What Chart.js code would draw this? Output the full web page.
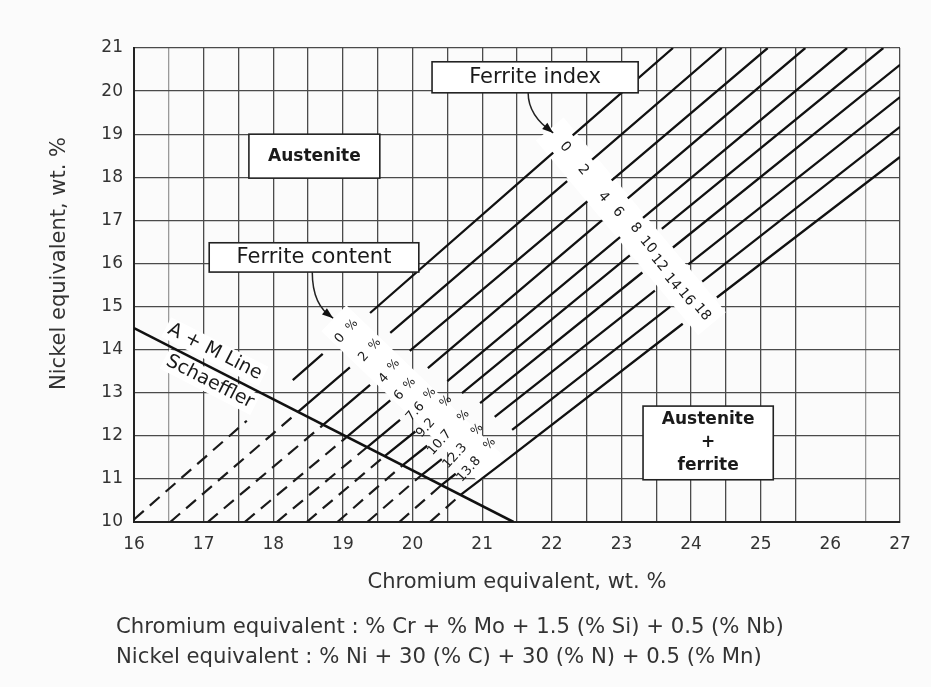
<!DOCTYPE html>
<html>
<head>
<meta charset="utf-8">
<script src="https://cdn.jsdelivr.net/npm/chart.js@4.4.1/dist/chart.umd.min.js"></script>
<style>
html, body { margin: 0; padding: 0; background: #fbfbfb; }
#wrap { position: relative; width: 931px; height: 687px; }
#formula { position: absolute; left: 116px; top: 611px; font: 21.2px "DejaVu Sans", sans-serif; color: #333; line-height: 30px; white-space: nowrap; }
</style>
</head>
<body>
<div id="wrap">
<canvas id="myChart" width="931" height="687"></canvas>
<div id="formula">Chromium equivalent : % Cr + % Mo + 1.5 (% Si) + 0.5 (% Nb)<br>Nickel equivalent : % Ni + 30 (% C) + 30 (% N) + 0.5 (% Mn)</div>
</div>
<script>
// iso-ferrite lines, one entry per line (FN 0 ... 18), [Cr eq, Ni eq]
const ferriteIndex = ['0', '2', '4', '6', '8', '10', '12', '14', '16', '18'];
const ferriteContent = ['0', '2', '4', '6', '7.6', '9.2', '10.7', '12.3', '13.8'];

// dashed part, bottom edge -> A+M line
const dashStart = [[16.00, 10.06], [16.52, 10], [17.06, 10], [17.59, 10], [18.05, 10],
    [18.48, 10], [18.92, 10], [19.35, 10], [19.81, 10], [20.25, 10]];
const dashEnd = [[17.62, 12.35], [18.36, 12.56], [18.72, 12.26], [19.06, 11.98], [19.35, 11.74],
    [19.60, 11.53], [19.86, 11.32], [20.13, 11.09], [20.41, 10.85], [20.69, 10.63]];
// solid part, A+M line -> % labels
const lowStart = [[18.28, 13.29], [18.36, 12.56], [18.72, 12.26], [19.06, 11.98], [19.35, 11.74],
    [19.60, 11.53], [19.86, 11.32], [20.13, 11.09], [20.41, 10.85], [20.69, 10.63]];
const lowEnd = [[18.71, 13.90], [19.10, 13.59], [19.39, 13.18], [19.68, 12.82], [19.82, 12.37],
    [20.04, 12.10], [20.21, 11.77], [20.42, 11.46], [20.62, 11.12], [21.26, 11.33]];
// between the two label bands
const midStart = [[19.39, 14.85], [19.68, 14.39], [19.96, 13.97], [20.22, 13.57], [20.50, 13.27],
    [20.71, 12.99], [20.97, 12.76], [21.18, 12.44], [21.43, 12.14], [21.26, 11.33]];
const midEnd = [[22.02, 18.57], [22.22, 17.91], [22.51, 17.44], [22.72, 17.00], [22.98, 16.61],
    [23.12, 16.19], [23.30, 15.79], [23.48, 15.37], [23.70, 15.00], [23.88, 14.60]];
// above the ferrite index labels
const topStart = [[22.30, 18.97], [22.58, 18.41], [22.86, 17.93], [23.09, 17.51], [23.31, 17.06],
    [23.58, 16.80], [23.74, 16.37], [23.96, 15.98], [24.16, 15.58], [24.37, 15.21]];
const topEnd = [[23.74, 21], [24.44, 21], [25.10, 21], [25.64, 21], [26.24, 21],
    [26.76, 21], [27, 20.61], [27, 19.86], [27, 19.17], [27, 18.47]];

// Schaeffler A+M line
const amLine = [[16, 14.5], [21.45, 10]];

// label anchors
const indexLabelPos = [[22.19, 18.70], [22.45, 18.17], [22.74, 17.54], [22.95, 17.19], [23.20, 16.82],
    [23.38, 16.43], [23.54, 16.01], [23.73, 15.57], [23.93, 15.22], [24.16, 14.87]];
const contentLabelPos = [[18.96, 14.26], [19.30, 13.83], [19.59, 13.33], [19.81, 12.94], [20.04, 12.56],
    [20.19, 12.18], [20.39, 11.84], [20.61, 11.53], [20.81, 11.22]];
const percentSignPos = [[19.13, 14.56], [19.46, 14.12], [19.73, 13.64], [19.96, 13.21], [20.25, 12.98],
    [20.48, 12.80], [20.73, 12.46], [20.93, 12.14], [21.11, 11.81]];

const boxes = [
    {text: ['Ferrite index'], from: [20.28, 20.68], to: [23.24, 19.96], bold: false},
    {text: ['Austenite'], from: [17.65, 19.00], to: [19.53, 17.98], bold: true},
    {text: ['Ferrite content'], from: [17.08, 16.48], to: [20.09, 15.80], bold: false},
    {text: ['Austenite', '+', 'ferrite'], from: [23.31, 12.69], to: [25.18, 10.98], bold: true}
];
const arrows = [
    [[21.66, 19.96], [21.66, 19.61], [22.02, 19.03]],
    [[18.56, 15.80], [18.56, 15.20], [18.86, 14.73]]
];
const bands = [
    [[21.97, 19.12], [24.30, 14.60]],
    [[18.87, 14.73], [21.14, 11.21]]
];
const amTexts = [['A + M Line', [17.16, 13.95]], ['Schaeffler', [17.09, 13.25]]];
const yTitle = 'Nickel equivalent, wt. %';

const FONT = '"DejaVu Sans", sans-serif';
Chart.defaults.font.family = FONT;
Chart.defaults.color = '#333';

function toPx(chart, p) {
    return [chart.scales.x.getPixelForValue(p[0]), chart.scales.y.getPixelForValue(p[1])];
}

function rotText(ctx, text, x, y, angle, font) {
    ctx.save();
    ctx.translate(x, y);
    ctx.rotate(angle);
    ctx.font = font;
    ctx.textAlign = 'center';
    ctx.textBaseline = 'middle';
    ctx.fillText(text, 0, 0);
    ctx.restore();
}

function amAngle(chart) {
    const a = toPx(chart, amLine[0]), c = toPx(chart, amLine[1]);
    return Math.atan2(c[1] - a[1], c[0] - a[0]);
}

const overlay = {
    id: 'overlay',
    beforeDatasetsDraw(chart) {
        const ctx = chart.ctx;
        ctx.save();
        ctx.strokeStyle = '#ffffff';
        ctx.lineWidth = 36;
        bands.forEach(b => {
            const a = toPx(chart, b[0]), c = toPx(chart, b[1]);
            ctx.beginPath();
            ctx.moveTo(a[0], a[1]);
            ctx.lineTo(c[0], c[1]);
            ctx.stroke();
        });
        // white ground under the A+M line texts
        const ang = amAngle(chart);
        ctx.font = '19px ' + FONT;
        amTexts.forEach(t => {
            const p = toPx(chart, t[1]);
            const w = ctx.measureText(t[0]).width;
            ctx.save();
            ctx.translate(p[0], p[1]);
            ctx.rotate(ang);
            ctx.fillStyle = '#ffffff';
            ctx.fillRect(-w / 2 - 3, -11, w + 6, 22);
            ctx.restore();
        });
        ctx.restore();
    },
    afterDatasetsDraw(chart) {
        const ctx = chart.ctx;
        ctx.save();
        ctx.fillStyle = '#333';
        rotText(ctx, yTitle, 60, chart.scales.y.getPixelForValue(16), -Math.PI / 2, '21px ' + FONT);

        ctx.fillStyle = '#1a1a1a';
        const ang = amAngle(chart);
        amTexts.forEach(t => rotText(ctx, t[0], ...toPx(chart, t[1]), ang, '19px ' + FONT));

        const fnAng = 50 * Math.PI / 180;
        indexLabelPos.forEach((p, i) => {
            rotText(ctx, ferriteIndex[i], ...toPx(chart, p), fnAng, '14px ' + FONT);
        });
        const pctAng = -48 * Math.PI / 180;
        contentLabelPos.forEach((p, i) => {
            rotText(ctx, ferriteContent[i], ...toPx(chart, p), pctAng, '13px ' + FONT);
            rotText(ctx, '%', ...toPx(chart, percentSignPos[i]), pctAng, '12px ' + FONT);
        });

        // callout boxes
        boxes.forEach(b => {
            const p0 = toPx(chart, b.from), p1 = toPx(chart, b.to);
            ctx.fillStyle = '#ffffff';
            ctx.fillRect(p0[0], p0[1], p1[0] - p0[0], p1[1] - p0[1]);
            ctx.strokeStyle = '#222';
            ctx.lineWidth = 1.6;
            ctx.strokeRect(p0[0], p0[1], p1[0] - p0[0], p1[1] - p0[1]);
            ctx.fillStyle = '#1a1a1a';
            ctx.font = (b.bold ? 'bold 17px ' : '21px ') + FONT;
            ctx.textAlign = 'center';
            ctx.textBaseline = 'middle';
            const cx = (p0[0] + p1[0]) / 2, cy = (p0[1] + p1[1]) / 2;
            const lh = 23;
            b.text.forEach((t, k) => {
                ctx.fillText(t, cx, cy + (k - (b.text.length - 1) / 2) * lh);
            });
        });

        // arrows
        arrows.forEach(ar => {
            const pts = ar.map(p => toPx(chart, p));
            ctx.strokeStyle = '#222';
            ctx.lineWidth = 1.5;
            ctx.beginPath();
            ctx.moveTo(pts[0][0], pts[0][1]);
            ctx.quadraticCurveTo(pts[1][0], pts[1][1] + 8, pts[2][0], pts[2][1]);
            ctx.stroke();
            const last = pts[2];
            const dir = Math.atan2(last[1] - pts[1][1] - 4, last[0] - pts[1][0]);
            ctx.fillStyle = '#111';
            ctx.beginPath();
            ctx.moveTo(last[0], last[1]);
            ctx.lineTo(last[0] - 11 * Math.cos(dir) + 4 * Math.sin(dir), last[1] - 11 * Math.sin(dir) - 4 * Math.cos(dir));
            ctx.lineTo(last[0] - 11 * Math.cos(dir) - 4 * Math.sin(dir), last[1] - 11 * Math.sin(dir) + 4 * Math.cos(dir));
            ctx.closePath();
            ctx.fill();
        });
        ctx.restore();
    }
};

let myChart = new Chart("myChart", {
    type: "scatter",
    data: {datasets: []},
    options: {
        responsive: false,
        animation: false,
        layout: {padding: {left: 0, right: 31, top: 48, bottom: 75}},
        plugins: {legend: {display: false}, tooltip: {enabled: false}},
        scales: {
            x: {
                type: 'linear', min: 16, max: 27,
                afterFit: s => { s.height = 90; },
                ticks: {
                    stepSize: 0.5, autoSkip: false, maxRotation: 0, padding: 12,
                    font: {size: 17}, color: '#333',
                    callback: v => Number.isInteger(v) ? v : ''
                },
                grid: {
                    drawTicks: false, lineWidth: 1.3,
                    color: c => c.tick.value === 26 ? 'rgba(0,0,0,0)' :
                        (c.tick.value === 26.5 || c.tick.value === 16.5 ? '#9a9a9a' : '#4a4a4a')
                },
                border: {color: '#222', width: 2},
                title: {display: true, text: 'Chromium equivalent, wt. %', font: {size: 21}, color: '#333', padding: {top: 0, bottom: 17}}
            },
            y: {
                type: 'linear', min: 10, max: 21,
                afterFit: s => { s.width = 134; },
                ticks: {stepSize: 1, padding: 11, font: {size: 17}, color: '#333'},
                grid: {drawTicks: false, lineWidth: 1.3, color: '#4a4a4a'},
                border: {color: '#222', width: 2}
            }
        }
    },
    plugins: [overlay]
});

const pt = p => ({x: p[0], y: p[1]});
const gap = p => ({x: p[0], y: null});

//Add iso-ferrite lines
for (let i = 0; i < ferriteIndex.length; i++) {
    myChart.data.datasets.push({
        label: 'FN ' + ferriteIndex[i] + ' dashed',
        data: [pt(dashStart[i]), pt(dashEnd[i])],
        showLine: true, pointRadius: 0,
        borderColor: '#1a1a1a', borderWidth: 2.2, borderDash: [13, 8]
    });
    myChart.data.datasets.push({
        label: 'FN ' + ferriteIndex[i],
        data: [pt(lowStart[i]), pt(lowEnd[i]), gap(lowEnd[i]), pt(midStart[i]), pt(midEnd[i]),
            gap(midEnd[i]), pt(topStart[i]), pt(topEnd[i])],
        showLine: true, spanGaps: false, pointRadius: 0,
        borderColor: '#111', borderWidth: 2.3
    });
}
myChart.data.datasets.push({
    label: 'A + M line',
    data: amLine.map(pt),
    showLine: true, pointRadius: 0,
    borderColor: '#111', borderWidth: 2.6
});
myChart.update();
</script>
</body>
</html>
